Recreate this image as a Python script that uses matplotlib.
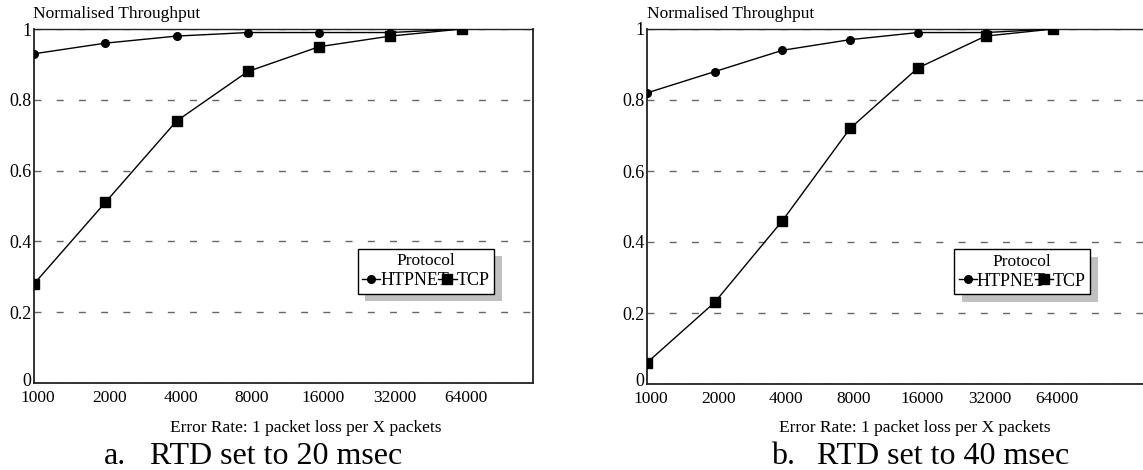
import matplotlib
matplotlib.use("Agg")
import matplotlib.pyplot as plt
import matplotlib.patheffects as pe
import matplotlib.transforms as mtrans

plt.rcParams['font.family'] = ['Liberation Serif', 'DejaVu Serif']

# error rate categories (1 packet loss per X packets)
error_rates = ['1000', '2000', '4000', '8000', '16000', '32000', '64000']

# panel a: RTD 20 msec
htpnet_20 = [0.93, 0.96, 0.98, 0.99, 0.99, 0.99, 1.00]
tcp_20 = [0.28, 0.51, 0.74, 0.88, 0.95, 0.98, 1.00]

# panel b: RTD 40 msec
htpnet_40 = [0.82, 0.88, 0.94, 0.97, 0.99, 0.99, 1.00]
tcp_40 = [0.06, 0.23, 0.46, 0.72, 0.89, 0.98, 1.00]

y_ticks = [0, 0.2, 0.4, 0.6, 0.8, 1]
y_ticklabels = ['0', '0.2', '0.4', '0.6', '0.8', '1']

W, H = 1143, 470


def draw_panel(fig, ax, htpnet, tcp, xmax, legend_x):
    x = list(range(len(error_rates)))
    for yv in y_ticks:
        ax.axhline(yv, color='#666666', lw=1.0, dashes=(5, 11), zorder=1)
    ax.plot(x, htpnet, color='black', lw=1.0, marker='o', markersize=5.5,
            zorder=3, label='HTPNET')
    ax.plot(x, tcp, color='black', lw=1.0, marker='s', markersize=7.5,
            zorder=3, label='TCP')
    ax.set_xlim(0, xmax)
    ax.set_ylim(0, 1)
    ax.set_xticks(x)
    ax.set_xticklabels(error_rates, fontsize=12.5)
    ax.set_yticks(y_ticks)
    ax.set_yticklabels(y_ticklabels, fontsize=13)
    ax.tick_params(length=0)
    ax.tick_params(axis='x', pad=5)
    ax.tick_params(axis='y', pad=2)
    # x labels sit a few pixels right of their points
    shift = mtrans.ScaledTranslation(4 / 100, 0, fig.dpi_scale_trans)
    for lab in ax.get_xticklabels():
        lab.set_transform(lab.get_transform() + shift)
    # lift the "0" so it clears the first x label
    lift = mtrans.ScaledTranslation(0, 4 / 100, fig.dpi_scale_trans)
    zero = ax.get_yticklabels()[0]
    zero.set_transform(zero.get_transform() + lift)
    for s in ax.spines.values():
        s.set_color('#222222')
        s.set_linewidth(1.3)
    ax.spines['top'].set_linewidth(1.0)

    leg = ax.legend(ncol=2, title='Protocol', loc='upper left',
                    bbox_to_anchor=(legend_x, 0.379), borderaxespad=0,
                    fontsize=13, title_fontsize=12.5, fancybox=False,
                    framealpha=1, edgecolor='black', handlelength=1.0,
                    handletextpad=0.0, columnspacing=-0.6, borderpad=0.25,
                    labelspacing=0.15)
    leg.get_frame().set_linewidth(1.0)
    leg.get_frame().set_path_effects([
        pe.SimplePatchShadow(offset=(5.5, -5.5), shadow_rgbFace='#c0c0c0', alpha=1.0),
        pe.Normal()])


fig = plt.figure(figsize=(W / 100, H / 100), dpi=100)

ax1 = fig.add_axes([34 / W, 87 / H, 499 / W, 354 / H])
draw_panel(fig, ax1, htpnet_20, tcp_20, 7, 0.649)

# right panel runs past the right edge of the picture
ax2 = fig.add_axes([647 / W, 86 / H, 536 / W, 355 / H])
draw_panel(fig, ax2, htpnet_40, tcp_40, 536 / 67.7, 954 / 536 - 647 / 536)

# y axis titles above the axes
fig.text(33 / W, 1 - 14 / H, 'Normalised Throughput', fontsize=12.5, va='center', ha='left')
fig.text(647 / W, 1 - 14 / H, 'Normalised Throughput', fontsize=12.5, va='center', ha='left')

# x axis titles
fig.text(306 / W, 1 - 428 / H, 'Error Rate: 1 packet loss per X packets', fontsize=12.5,
         ha='center', va='center')
fig.text(915 / W, 1 - 428 / H, 'Error Rate: 1 packet loss per X packets', fontsize=12.5,
         ha='center', va='center')

# captions
fig.text(104 / W, 1 - 464 / H, 'a.', fontsize=23, ha='left', va='baseline')
fig.text(150 / W, 1 - 464 / H, 'RTD set to 20 msec', fontsize=23, ha='left', va='baseline')
fig.text(771 / W, 1 - 464 / H, 'b.', fontsize=23, ha='left', va='baseline')
fig.text(817 / W, 1 - 464 / H, 'RTD set to 40 msec', fontsize=23, ha='left', va='baseline')

fig.savefig('out.png', dpi=100)
